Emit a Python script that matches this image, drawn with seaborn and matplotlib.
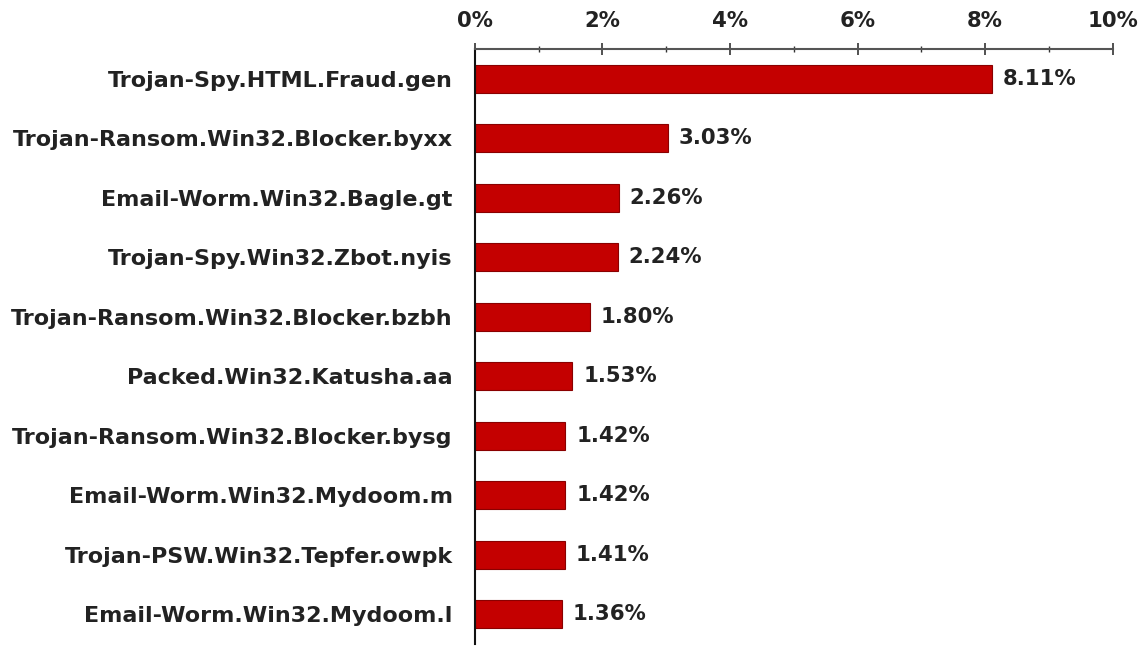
import matplotlib
matplotlib.use("Agg")
import matplotlib.pyplot as plt
import seaborn as sns
import pandas as pd
from matplotlib.ticker import MultipleLocator, FuncFormatter

names = [
    "Trojan-Spy.HTML.Fraud.gen",
    "Trojan-Ransom.Win32.Blocker.byxx",
    "Email-Worm.Win32.Bagle.gt",
    "Trojan-Spy.Win32.Zbot.nyis",
    "Trojan-Ransom.Win32.Blocker.bzbh",
    "Packed.Win32.Katusha.aa",
    "Trojan-Ransom.Win32.Blocker.bysg",
    "Email-Worm.Win32.Mydoom.m",
    "Trojan-PSW.Win32.Tepfer.owpk",
    "Email-Worm.Win32.Mydoom.l",
]
shares = [8.11, 3.03, 2.26, 2.24, 1.80, 1.53, 1.42, 1.42, 1.41, 1.36]

df = pd.DataFrame({"name": names, "share": shares})

sns.set_style("white")
plt.rcParams["font.family"] = ["DejaVu Sans"]

FS_NAME = 16.0
FS_VAL = 15.3

fig = plt.figure(figsize=(11.44, 6.46), dpi=100)
ax = fig.add_axes([0.415, 0.003, 0.5577, 0.921])

sns.barplot(data=df, x="share", y="name", color="#C40000", width=0.47,
            edgecolor="#8a0000", linewidth=0.8, saturation=1, ax=ax, orient="h")

ax.set_xlim(0, 10)
ax.set_ylim(9.5, -0.5)
ax.xaxis.tick_top()
ax.xaxis.set_major_locator(MultipleLocator(2))
ax.xaxis.set_minor_locator(MultipleLocator(1))
ax.xaxis.set_major_formatter(FuncFormatter(lambda v, p: f"{v:.0f}%"))
ax.tick_params(axis="x", which="major", direction="inout", length=8, width=1.2,
               pad=9, labelsize=FS_VAL, labelcolor="#222222", color="#333333")
ax.tick_params(axis="x", which="minor", direction="inout", length=5, width=1.0,
               color="#333333")
for t in ax.get_xticklabels():
    t.set_fontweight("bold")

# y ticks at category boundaries
ax.set_yticks(range(len(names)))
ax.set_yticklabels(names, fontsize=FS_NAME, fontweight="bold", color="#222222")
ax.tick_params(axis="y", which="major", length=0, pad=16)
ax.set_yticks([i - 0.5 for i in range(len(names) + 1)], minor=True)
ax.tick_params(axis="y", which="minor", direction="out", length=7, width=1.2,
               color="#222222")

for s in ["right", "bottom"]:
    ax.spines[s].set_visible(False)
ax.spines["top"].set_color("#555555")
ax.spines["top"].set_linewidth(1.5)
ax.spines["left"].set_color("#111111")
ax.spines["left"].set_linewidth(1.5)

ax.set_xlabel("")
ax.set_ylabel("")

for i, v in enumerate(shares):
    ax.text(v + 0.17, i, f"{v:.2f}%", va="center", ha="left",
            fontsize=FS_VAL, fontweight="bold", color="#222222")

fig.savefig("out.png", dpi=100)
